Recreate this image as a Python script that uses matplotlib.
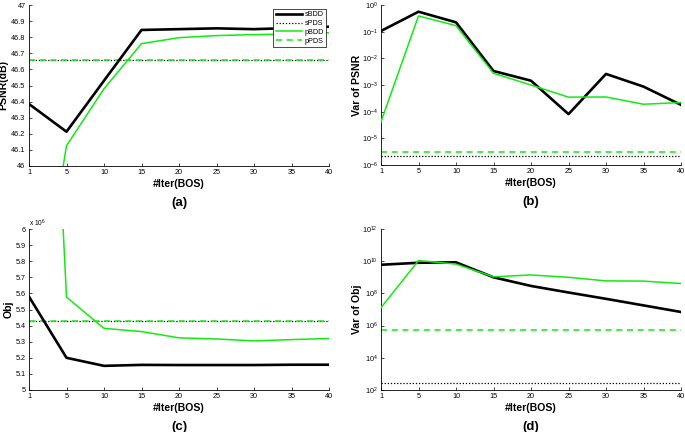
import numpy as np
import matplotlib
matplotlib.use("Agg")
import matplotlib.pyplot as plt
from matplotlib.ticker import FixedLocator, FuncFormatter, NullLocator

# ── Dados ─────────────────────────────────────────────────────────────────────

ITERS = ["1", "5", "10", "15", "20", "25", "30", "35", "40"]

# (a) PSNR (dB)
PSNR_SBDD = [46.385, 46.213, 46.53, 46.845, 46.85, 46.855, 46.85, 46.857, 46.865]
PSNR_PBDD = [44.7, 46.126, 46.48, 46.76, 46.797, 46.81, 46.816, 46.82, 46.828]
PSNR_SPDS = 46.657
PSNR_PPDS = 46.66

# (b) variância do PSNR
VPSNR_SBDD = [0.106, 0.56, 0.224, 3.35e-3, 1.45e-3, 8.1e-5, 2.6e-3, 8.7e-4, 1.8e-4]
VPSNR_PBDD = [4.2e-5, 0.39, 0.168, 2.75e-3, 1.0e-3, 3.5e-4, 3.55e-4, 1.9e-4, 2.2e-4]
VPSNR_SPDS = 2.2e-6
VPSNR_PPDS = 3.2e-6

# (c) objetivo (x 10^6)
OBJ_SBDD = [5.58, 5.20, 5.15, 5.156, 5.155, 5.155, 5.155, 5.157, 5.157]
OBJ_PBDD = [10.3, 5.577, 5.383, 5.363, 5.324, 5.317, 5.305, 5.313, 5.32]
OBJ_SPDS = 5.426
OBJ_PPDS = 5.428

# (d) variância do objetivo
VOBJ_SBDD = [6.0e9, 8.0e9, 8.5e9, 1.0e9, 2.9e8, 1.14e8, 4.6e7, 1.8e7, 7.0e6]
VOBJ_PBDD = [1.3e7, 1.1e10, 6.6e9, 1.07e9, 1.4e9, 1.0e9, 6.0e8, 5.8e8, 4.1e8]
VOBJ_SPDS = 2.7e2
VOBJ_PPDS = 5.1e5

# ── Estilo ────────────────────────────────────────────────────────────────────

GREEN = "#10ec10"
BLACK = "#000000"
TICK_FS = 5.2
LABEL_FS = 7.6

plt.rcParams.update({
    "font.family": ["Liberation Sans", "DejaVu Sans"],
    "mathtext.default": "regular",
    "axes.linewidth": 0.6,
    "xtick.direction": "in",
    "ytick.direction": "in",
    "xtick.major.size": 2,
    "ytick.major.size": 2,
    "xtick.major.width": 0.5,
    "ytick.major.width": 0.5,
    "xtick.major.pad": 2.5,
    "ytick.major.pad": 2.5,
})

fig = plt.figure(figsize=(6.85, 4.32), dpi=100)
W, H = 685.0, 432.0


def make_ax(left, top, right, bottom):
    return fig.add_axes([left / W, 1 - bottom / H, (right - left) / W, (bottom - top) / H])


def style(ax, ylabel, ylab_x, letter):
    x = np.arange(len(ITERS))
    ax.set_xlim(0, len(ITERS) - 1)
    ax.set_xticks(x)
    ax.set_xticklabels(ITERS)
    ax.spines[["top", "right"]].set_visible(False)
    ax.tick_params(labelsize=TICK_FS)
    ax.yaxis.set_minor_locator(NullLocator())
    ax.set_xlabel("#Iter(BOS)", fontsize=LABEL_FS, fontweight="bold", labelpad=2)
    ax.set_ylabel(ylabel, fontsize=LABEL_FS, fontweight="bold")
    ax.yaxis.set_label_coords(ylab_x, 0.5)
    pos = ax.get_position()
    fig.text(pos.x0 + pos.width / 2, pos.y0 - 0.085, letter,
             fontsize=9.5, fontweight="bold", ha="center", va="center")


def draw(ax, sbdd, pbdd, spds, ppds, log=False):
    x = np.arange(len(ITERS))
    if log:
        ax.set_yscale("log")
    ax.plot(x, sbdd, color=BLACK, lw=1.9, label="sBDD", zorder=3)
    ax.axhline(spds, color=BLACK, lw=0.9, ls=(0, (1, 1.5)), label="sPDS")
    ax.plot(x, pbdd, color=GREEN, lw=1.1, label="pBDD", zorder=4)
    ax.axhline(ppds, color=GREEN, lw=1.1, ls=(0, (4, 3)), label="pPDS")


gfmt = FuncFormatter(lambda v, _: f"{v:g}")

# (a)
ax = make_ax(29, 5, 329, 166)
draw(ax, PSNR_SBDD, PSNR_PBDD, PSNR_SPDS, PSNR_PPDS)
ax.set_ylim(46, 47)
ax.yaxis.set_major_locator(FixedLocator(np.round(np.arange(46, 47.01, 0.1), 1)))
ax.yaxis.set_major_formatter(gfmt)
style(ax, "PSNR(dB)", -0.068, "(a)")
leg = ax.legend(loc="upper right", bbox_to_anchor=(0.99, 0.975), fontsize=5.2,
                frameon=True, fancybox=False, framealpha=1, edgecolor="black",
                handlelength=3.6, handletextpad=0.4, borderpad=0.3,
                labelspacing=0.25, borderaxespad=0)
leg.get_frame().set_linewidth(0.5)

# (b)
ax = make_ax(381, 5, 681, 165)
draw(ax, VPSNR_SBDD, VPSNR_PBDD, VPSNR_SPDS, VPSNR_PPDS, log=True)
ax.set_ylim(1e-6, 1e0)
ax.yaxis.set_major_locator(FixedLocator([10.0 ** k for k in range(-6, 1)]))
ax.yaxis.set_minor_locator(NullLocator())
style(ax, "Var of PSNR", -0.064, "(b)")

# (c)
ax = make_ax(29, 229, 329, 390)
draw(ax, OBJ_SBDD, OBJ_PBDD, OBJ_SPDS, OBJ_PPDS)
ax.set_ylim(5, 6)
ax.yaxis.set_major_locator(FixedLocator(np.round(np.arange(5, 6.01, 0.1), 1)))
ax.yaxis.set_major_formatter(gfmt)
ax.text(0.0, 1.0, r"x 10$^6$", transform=ax.transAxes, fontsize=4.8,
        ha="left", va="bottom")
style(ax, "Obj", -0.052, "(c)")

# (d)
ax = make_ax(381, 229, 681, 390)
draw(ax, VOBJ_SBDD, VOBJ_PBDD, VOBJ_SPDS, VOBJ_PPDS, log=True)
ax.set_ylim(1e2, 1e12)
ax.yaxis.set_major_locator(FixedLocator([10.0 ** k for k in range(2, 13, 2)]))
ax.yaxis.set_minor_locator(NullLocator())
style(ax, "Var of Obj", -0.064, "(d)")

fig.savefig("out.png", dpi=100)
